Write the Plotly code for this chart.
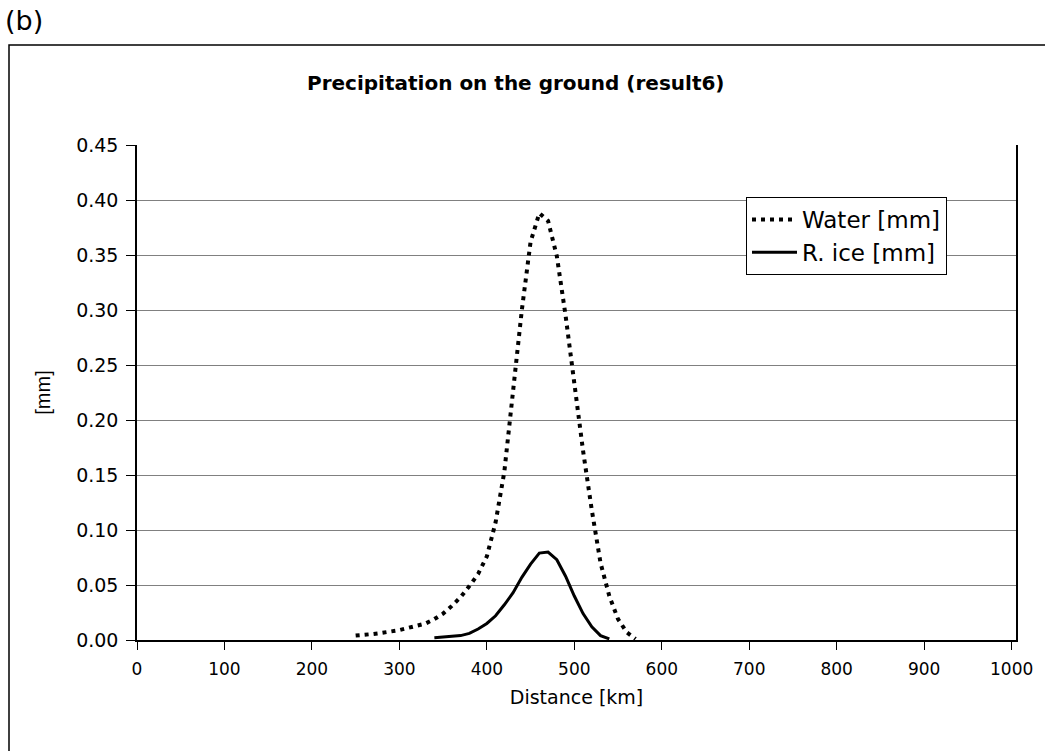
import plotly.graph_objects as go

# Data
water_km = [250, 260, 270, 280, 290, 300, 310, 320, 330, 340, 350, 360, 370, 380, 390,
            400, 410, 420, 430, 440, 450, 460, 470, 480, 490, 500, 510, 520, 530, 540,
            550, 560, 570]
water_mm = [0.004, 0.0045, 0.0055, 0.0065, 0.0075, 0.009, 0.011, 0.013, 0.015, 0.019,
            0.024, 0.031, 0.039, 0.049, 0.060, 0.076, 0.107, 0.153, 0.230, 0.300,
            0.362, 0.388, 0.381, 0.349, 0.295, 0.232, 0.172, 0.118, 0.070, 0.040,
            0.019, 0.007, 0.001]

ice_km = [340, 350, 360, 370, 380, 390, 400, 410, 420, 430, 440, 450, 460, 470, 480,
          490, 500, 510, 520, 530, 540]
ice_mm = [0.002, 0.0025, 0.003, 0.004, 0.006, 0.010, 0.015, 0.022, 0.032, 0.043,
          0.057, 0.069, 0.079, 0.080, 0.073, 0.058, 0.040, 0.024, 0.012, 0.004, 0.001]

x_ticks = [0, 100, 200, 300, 400, 500, 600, 700, 800, 900, 1000]
y_ticks = [0.00, 0.05, 0.10, 0.15, 0.20, 0.25, 0.30, 0.35, 0.40, 0.45]

FONT = "DejaVu Sans, sans-serif"
FONT2 = "Liberation Sans, Arial, sans-serif"

fig = go.Figure()
fig.add_trace(go.Scatter(
    x=water_km, y=water_mm, mode="lines", name="Water [mm]",
    line=dict(color="black", width=4, dash="4px,5px"),
))
fig.add_trace(go.Scatter(
    x=ice_km, y=ice_mm, mode="lines", name="R. ice [mm]",
    line=dict(color="black", width=3),
))

W, H = 1045, 751
L, R, T, B = 137, 29, 145, 111
pw = W - L - R
ph = H - T - B

def px_x(p):
    return (p - L) / pw

def px_y(p):
    return (H - B - p) / ph

fig.update_layout(
    width=W, height=H,
    margin=dict(l=L, r=R, t=T, b=B),
    paper_bgcolor="white", plot_bgcolor="white",
    font=dict(family=FONT, color="black", size=18),
    showlegend=True,
    legend=dict(
        x=px_x(746), y=px_y(197), xanchor="left", yanchor="top",
        bgcolor="white", bordercolor="black", borderwidth=1,
        font=dict(size=23, family=FONT),
        tracegroupgap=0, itemwidth=45,
    ),
    xaxis=dict(
        range=[0, 1005], tickvals=x_ticks, ticktext=[str(v) for v in x_ticks],
        showgrid=False, zeroline=False,
        showline=True, linecolor="black", linewidth=2,
        ticks="outside", ticklen=8, tickcolor="black",
        tickfont=dict(size=17), ticklabelstandoff=5,
        title=dict(text="Distance [km]", font=dict(size=19), standoff=12),
    ),
    yaxis=dict(
        range=[0, 0.45], tickvals=y_ticks, ticktext=[f"{v:.2f}" for v in y_ticks],
        showgrid=True, gridcolor="#808080", gridwidth=1,
        zeroline=False,
        showline=True, linecolor="black", linewidth=1.5, mirror=True,
        ticks="outside", ticklen=9, tickcolor="black",
        tickfont=dict(size=19), ticklabelstandoff=4,
        title=dict(text="[mm]", font=dict(size=20, family=FONT2), standoff=20),
    ),
    shapes=[
        dict(type="rect", xref="paper", yref="paper",
             x0=px_x(9), x1=px_x(1060), y0=px_y(770), y1=px_y(45),
             line=dict(color="black", width=1.5), fillcolor="rgba(0,0,0,0)",
             layer="below"),
    ],
    annotations=[
        dict(text="(b)", xref="paper", yref="paper", x=px_x(3), y=px_y(21),
             xanchor="left", yanchor="middle", showarrow=False,
             font=dict(size=27, family=FONT)),
        dict(text="<b>Precipitation on the ground (result6)</b>", xref="paper", yref="paper",
             x=px_x(516), y=px_y(83), xanchor="center", yanchor="middle", showarrow=False,
             font=dict(size=20, family=FONT)),
    ],
)

fig.write_html("out.html")
